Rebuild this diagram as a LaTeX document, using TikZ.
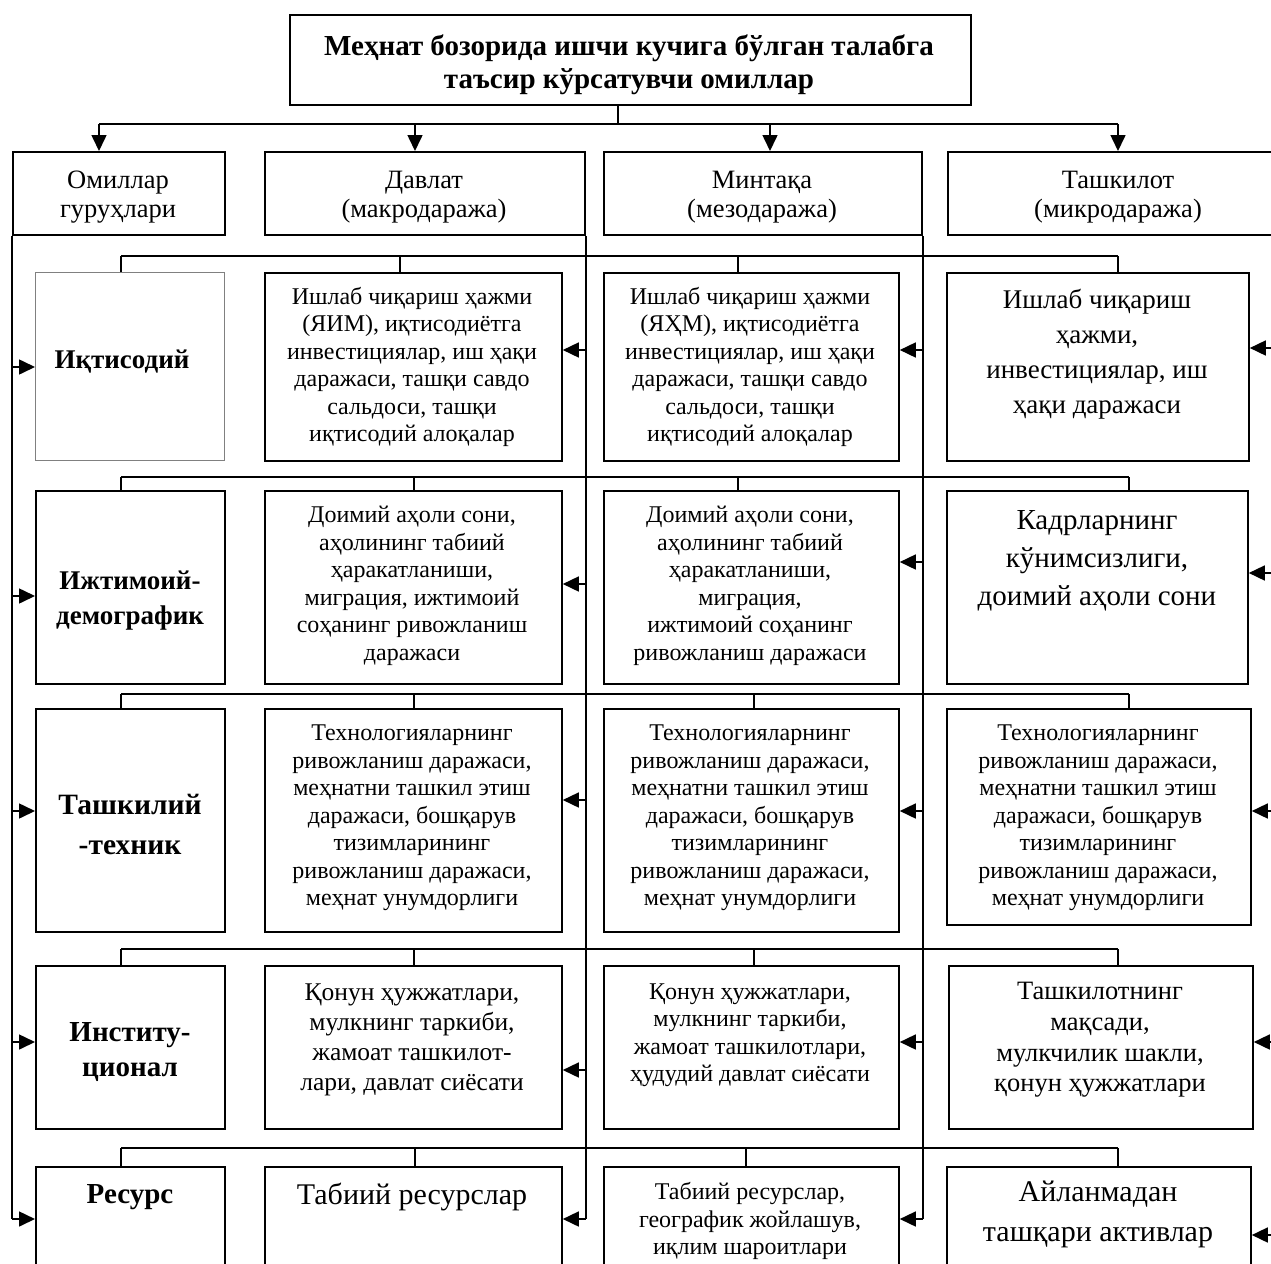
\documentclass[tikz,border=0pt]{standalone}
\usepackage{fontspec}
\setmainfont{Liberation Serif}
\usetikzlibrary{arrows.meta,calc}

\begin{document}
\begin{tikzpicture}[x=1pt, y=-1pt,
                    cell/.style={draw, line width=1.8pt, anchor=north west, inner sep=0pt},
                    txt/.style={align=center, inner sep=0pt, font=\fontsize{24}{27.5}\selectfont},
                    wire/.style={line width=1.6pt},
                    arrow/.style={line width=1.6pt, -{Triangle[length=16pt, width=15pt]}}]

\useasboundingbox (0,0) rectangle (1271,1263);
\clip (0,0) rectangle (1271,1263);

% Title
\node[cell, minimum width=681pt, minimum height=90pt] (title) at (289,14) {};
\node[txt, font=\bfseries\fontsize{29}{33}\selectfont] (titlet) at (629,65)
      {Меҳнат бозорида ишчи кучига бўлган талабга\\ таъсир кўрсатувчи омиллар};

% Header row
\node[cell, minimum width=212pt, minimum height=83pt] (h1) at (12,151) {};
\node[cell, minimum width=320pt, minimum height=83pt] (h2) at (264,151) {};
\node[cell, minimum width=318pt, minimum height=83pt] (h3) at (603,151) {};
\node[cell, minimum width=342pt, minimum height=83pt] (h4) at (947,151) {};
\node[txt, font=\fontsize{26.5}{29}\selectfont] (h1t) at (118,197) {Омиллар\\ гуруҳлари};
\node[txt, font=\fontsize{26.5}{29}\selectfont] (h2t) at (424,197) {Давлат\\ (макродаража)};
\node[txt, font=\fontsize{26.5}{29}\selectfont] (h3t) at (762,197) {Минтақа\\ (мезодаража)};
\node[txt, font=\fontsize{26.5}{29}\selectfont] (h4t) at (1118,197) {Ташкилот\\ (микродаража)};

% Title to headers
\coordinate (tstem) at (618,124);
\coordinate (tbusL) at (99,124);
\coordinate (tbusR) at (1118,124);
\draw[wire] (title.south -| tstem) -- (tstem);
\draw[wire] (tbusL) -- (tbusR);
\foreach \x/\h in {99/h1, 415/h2, 770/h3, 1118/h4} {
    \draw[arrow] (\x,124) -- (\x,124 |- \h.north);
}

% First row
\node[cell, draw=gray, line width=0.8pt, minimum width=189pt, minimum height=188pt] (r1c1) at (35,272) {};
\node[cell, minimum width=297pt, minimum height=188pt] (r1c2) at (264,272) {};
\node[cell, minimum width=295pt, minimum height=188pt] (r1c3) at (603,272) {};
\node[cell, minimum width=302pt, minimum height=188pt] (r1c4) at (946,272) {};
\node[txt, font=\bfseries\fontsize{27}{32}\selectfont] (r1c1t) at (122,362) {Иқтисодий};
\node[txt] (r1c2t) at (412,367) {Ишлаб чиқариш ҳажми\\ (ЯИМ), иқтисодиётга\\ инвестициялар, иш ҳақи\\ даражаси, ташқи савдо\\ сальдоси, ташқи\\ иқтисодий алоқалар};
\node[txt] (r1c3t) at (750,367) {Ишлаб чиқариш ҳажми\\ (ЯҲМ), иқтисодиётга\\ инвестициялар, иш ҳақи\\ даражаси, ташқи савдо\\ сальдоси, ташқи\\ иқтисодий алоқалар};
\node[txt, font=\fontsize{27}{35}\selectfont] (r1c4t) at (1097,354) {Ишлаб чиқариш\\ ҳажми,\\ инвестициялар, иш\\ ҳақи даражаси};

% Second row
\node[cell, minimum width=189pt, minimum height=193pt] (r2c1) at (35,490) {};
\node[cell, minimum width=297pt, minimum height=193pt] (r2c2) at (264,490) {};
\node[cell, minimum width=295pt, minimum height=193pt] (r2c3) at (603,490) {};
\node[cell, minimum width=301pt, minimum height=193pt] (r2c4) at (946,490) {};
\node[txt, font=\bfseries\fontsize{27}{35}\selectfont] (r2c1t) at (130,601) {Ижтимоий-\\ демографик};
\node[txt] (r2c2t) at (412,586) {Доимий аҳоли сони,\\ аҳолининг табиий\\ ҳаракатланиши,\\ миграция, ижтимоий\\ соҳанинг ривожланиш\\ даражаси};
\node[txt] (r2c3t) at (750,586) {Доимий аҳоли сони,\\ аҳолининг табиий\\ ҳаракатланиши,\\ миграция,\\ ижтимоий соҳанинг\\ ривожланиш даражаси};
\node[txt, font=\fontsize{29}{38}\selectfont] (r2c4t) at (1097,561) {Кадрларнинг\\ кўнимсизлиги,\\ доимий аҳоли сони};

% Third row
\node[cell, minimum width=189pt, minimum height=223pt] (r3c1) at (35,708) {};
\node[cell, minimum width=297pt, minimum height=223pt] (r3c2) at (264,708) {};
\node[cell, minimum width=295pt, minimum height=223pt] (r3c3) at (603,708) {};
\node[cell, minimum width=304pt, minimum height=216pt] (r3c4) at (946,708) {};
\node[txt, font=\bfseries\fontsize{29.5}{40}\selectfont] (r3c1t) at (130,824) {Ташкилий\\ -техник};
\node[txt] (r3c2t) at (412,818) {Технологияларнинг\\ ривожланиш даражаси,\\ меҳнатни ташкил этиш\\ даражаси, бошқарув\\ тизимларининг\\ ривожланиш даражаси,\\ меҳнат унумдорлиги};
\node[txt] (r3c3t) at (750,818) {Технологияларнинг\\ ривожланиш даражаси,\\ меҳнатни ташкил этиш\\ даражаси, бошқарув\\ тизимларининг\\ ривожланиш даражаси,\\ меҳнат унумдорлиги};
\node[txt] (r3c4t) at (1098,818) {Технологияларнинг\\ ривожланиш даражаси,\\ меҳнатни ташкил этиш\\ даражаси, бошқарув\\ тизимларининг\\ ривожланиш даражаси,\\ меҳнат унумдорлиги};

% Fourth row
\node[cell, minimum width=189pt, minimum height=163pt] (r4c1) at (35,965) {};
\node[cell, minimum width=297pt, minimum height=163pt] (r4c2) at (264,965) {};
\node[cell, minimum width=295pt, minimum height=163pt] (r4c3) at (603,965) {};
\node[cell, minimum width=304pt, minimum height=163pt] (r4c4) at (948,965) {};
\node[txt, font=\bfseries\fontsize{29}{35}\selectfont] (r4c1t) at (130,1052) {Институ-\\ ционал};
\node[txt, font=\fontsize{25.5}{30}\selectfont] (r4c2t) at (412,1040) {Қонун ҳужжатлари,\\ мулкнинг таркиби,\\ жамоат ташкилот-\\ лари, давлат сиёсати};
\node[txt] (r4c3t) at (750,1035) {Қонун ҳужжатлари,\\ мулкнинг таркиби,\\ жамоат ташкилотлари,\\ ҳудудий давлат сиёсати};
\node[txt, font=\fontsize{26.5}{30.7}\selectfont] (r4c4t) at (1100,1040) {Ташкилотнинг\\ мақсади,\\ мулкчилик шакли,\\ қонун ҳужжатлари};

% Fifth row
\node[cell, minimum width=189pt, minimum height=124pt] (r5c1) at (35,1166) {};
\node[cell, minimum width=297pt, minimum height=124pt] (r5c2) at (264,1166) {};
\node[cell, minimum width=295pt, minimum height=124pt] (r5c3) at (603,1166) {};
\node[cell, minimum width=304pt, minimum height=124pt] (r5c4) at (946,1166) {};
\node[txt, font=\bfseries\fontsize{29}{33}\selectfont] (r5c1t) at (130,1197) {Ресурс};
\node[txt, font=\fontsize{30}{34}\selectfont] (r5c2t) at (412,1197) {Табиий ресурслар};
\node[txt] (r5c3t) at (750,1221) {Табиий ресурслар,\\ географик жойлашув,\\ иқлим шароитлари};
\node[txt, font=\fontsize{30}{40}\selectfont] (r5c4t) at (1098,1214) {Айланмадан\\ ташқари активлар};

% Row buses
\foreach \n/\yb/\sa/\sb/\sc/\sd in {1/256/121/400/738/1118, 2/477/121/414/738/1129,
        3/694/121/414/754/1129, 4/949/121/414/754/1118, 5/1148/121/415/746/1118} {
    \draw[wire] (\sa,\yb) -- (\sd,\yb);
    \foreach \s/\c in {\sa/1, \sb/2, \sc/3, \sd/4} {
        \draw[wire] (\s,\yb) -- (\s,\yb |- r\n c\c.north);
    }
}

% Vertical feeders
\coordinate (vend) at (0,1219);
\coordinate (redge) at (1271,0);
\draw[wire] (h1.south west) -- (h1.south west |- vend);
\draw[wire] (h2.south east) -- (h2.south east |- vend);
\draw[wire] (h3.south east) -- (h3.south east |- vend);

% Side arrows
\foreach \n/\ya/\yb/\yc/\yd in {1/367/350/350/348, 2/596/584/562/573, 3/811/800/811/811,
        4/1042/1070/1042/1042, 5/1219/1219/1219/1235} {
    \draw[arrow] (h1.south west |- 0,\ya) -- (r\n c1.west |- 0,\ya);
    \draw[arrow] (h2.south east |- 0,\yb) -- (r\n c2.east |- 0,\yb);
    \draw[arrow] (h3.south east |- 0,\yc) -- (r\n c3.east |- 0,\yc);
    \draw[arrow] (redge |- 0,\yd) -- (r\n c4.east |- 0,\yd);
}

\end{tikzpicture}
\end{document}
